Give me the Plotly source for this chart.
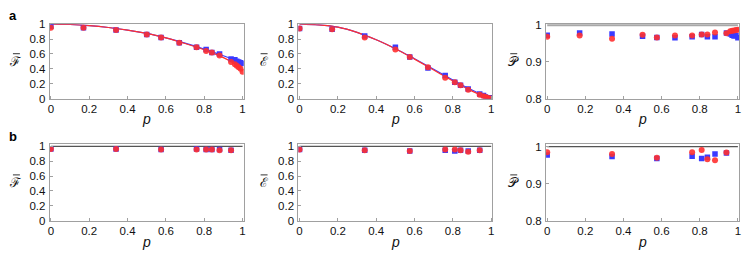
import plotly.graph_objects as go

# ---------------- data ----------------
p_a = [0, 0.17, 0.34, 0.5, 0.575, 0.67, 0.76, 0.81, 0.84, 0.88, 0.94, 0.96, 0.97, 0.98, 0.99, 1.0]
F_a_blue = [0.97, 0.95, 0.92, 0.86, 0.82, 0.75, 0.69, 0.66, 0.62, 0.60, 0.53, 0.52, 0.50, 0.49, 0.48, 0.47]
F_a_red = [0.95, 0.95, 0.92, 0.86, 0.82, 0.75, 0.69, 0.64, 0.62, 0.58, 0.49, 0.46, 0.44, 0.42, 0.40, 0.36]
E_a_blue = [0.94, 0.93, 0.84, 0.69, 0.56, 0.41, 0.31, 0.22, 0.18, 0.13, 0.06, 0.04, 0.02, 0.01, 0.01, 0.0]
E_a_red = [0.94, 0.93, 0.82, 0.66, 0.56, 0.42, 0.28, 0.22, 0.18, 0.12, 0.05, 0.03, 0.02, 0.01, 0.0, 0.0]
P_a_blue = [0.972, 0.978, 0.975, 0.969, 0.966, 0.965, 0.968, 0.974, 0.968, 0.968, 0.978, 0.975, 0.972, 0.970, 0.971, 0.965]
P_a_red = [0.968, 0.971, 0.962, 0.973, 0.966, 0.971, 0.971, 0.974, 0.974, 0.979, 0.977, 0.983, 0.984, 0.985, 0.986, 0.987]

p_curve = [0, 0.1, 0.2, 0.3, 0.4, 0.5, 0.6, 0.7, 0.8, 0.85, 0.9, 0.95, 1.0]
F_curve_blue = [1.0, 0.995, 0.98, 0.955, 0.92, 0.875, 0.815, 0.745, 0.665, 0.62, 0.575, 0.53, 0.48]
F_curve_red = [1.0, 0.995, 0.98, 0.955, 0.92, 0.875, 0.815, 0.74, 0.655, 0.605, 0.55, 0.48, 0.37]
E_curve_blue = [1.0, 0.99, 0.96, 0.89, 0.79, 0.67, 0.535, 0.395, 0.25, 0.18, 0.115, 0.055, 0.0]
E_curve_red = [1.0, 0.99, 0.96, 0.89, 0.79, 0.67, 0.53, 0.385, 0.235, 0.165, 0.10, 0.045, 0.0]

p_b = [0, 0.34, 0.575, 0.76, 0.81, 0.84, 0.88, 0.94]
F_b_blue = [0.965, 0.965, 0.96, 0.965, 0.96, 0.96, 0.96, 0.95]
F_b_red = [0.965, 0.965, 0.96, 0.96, 0.96, 0.96, 0.95, 0.95]
E_b_blue = [0.96, 0.95, 0.94, 0.95, 0.94, 0.95, 0.94, 0.95]
E_b_red = [0.96, 0.95, 0.94, 0.96, 0.96, 0.95, 0.93, 0.95]
P_b_blue = [0.977, 0.973, 0.968, 0.974, 0.968, 0.971, 0.980, 0.983]
P_b_red = [0.985, 0.980, 0.970, 0.985, 0.991, 0.966, 0.963, 0.984]

x_ticks = [0, 0.2, 0.4, 0.6, 0.8, 1.0]
x_ticktext = ["0", "0.2", "0.4", "0.6", "0.8", "1"]
y_ticks = [0, 0.2, 0.4, 0.6, 0.8, 1.0]
y_ticktext = ["0", "0.2", "0.4", "0.6", "0.8", "1"]
yP_ticks = [0.8, 0.9, 1.0]
yP_ticktext = ["0.8", "0.9", "1"]
y_titles = ["ℱ", "ℰ", "𝒫"]

BLUE = "#3a3aff"
RED = "#ff3030"
FRAME = "#a0a0a0"
FONT = "Liberation Sans"

fig = go.Figure()

W, H = 747, 262
cols = [(48, 243), (298, 493), (547, 741)]
rows = [(19, 97), (145, 225)]


def dom_x(c):
    return [cols[c][0] / W, cols[c][1] / W]


def dom_y(r):
    return [1 - rows[r][1] / H, 1 - rows[r][0] / H]


def add_pts(i, x, yb, yr):
    xa = "x" if i == 1 else f"x{i}"
    ya = "y" if i == 1 else f"y{i}"
    fig.add_trace(go.Scatter(x=x, y=yb, mode="markers", xaxis=xa, yaxis=ya,
                             marker=dict(symbol="square", size=5.5, color=BLUE), showlegend=False))
    fig.add_trace(go.Scatter(x=x, y=yr, mode="markers", xaxis=xa, yaxis=ya,
                             marker=dict(symbol="circle", size=6, color=RED, opacity=0.9), showlegend=False))


def add_curve(i, x, y, color):
    xa = "x" if i == 1 else f"x{i}"
    ya = "y" if i == 1 else f"y{i}"
    fig.add_trace(go.Scatter(x=x, y=y, mode="lines", xaxis=xa, yaxis=ya, line_shape="spline",
                             line=dict(color=color, width=1.2), showlegend=False))


def add_hline(i, yv, color, width):
    xa = "x" if i == 1 else f"x{i}"
    ya = "y" if i == 1 else f"y{i}"
    fig.add_trace(go.Scatter(x=[0, 1.0], y=[yv, yv], mode="lines", xaxis=xa, yaxis=ya,
                             line=dict(color=color, width=width), showlegend=False, hoverinfo="skip"))


# row a
add_curve(1, p_curve, F_curve_blue, BLUE)
add_curve(1, p_curve, F_curve_red, RED)
add_pts(1, p_a, F_a_blue, F_a_red)
add_curve(2, p_curve, E_curve_blue, BLUE)
add_curve(2, p_curve, E_curve_red, RED)
add_pts(2, p_a, E_a_blue, E_a_red)
add_hline(3, 1.0, "#a8a8a8", 3)
add_pts(3, p_a, P_a_blue, P_a_red)
# row b
add_hline(4, 1.0, "#555555", 1.3)
add_pts(4, p_b, F_b_blue, F_b_red)
add_hline(5, 1.0, "#555555", 1.3)
add_pts(5, p_b, E_b_blue, E_b_red)
add_hline(6, 1.0, "#555555", 1.3)
add_pts(6, p_b, P_b_blue, P_b_red)

axis_common = dict(showline=True, mirror=True, linecolor=FRAME, linewidth=1, ticks="inside",
                   ticklen=3, tickcolor=FRAME, showgrid=False, zeroline=False,
                   tickfont=dict(family=FONT, size=11.5, color="#111"))

yranges = {1: [0, 1.0], 2: [0, 1.0], 3: [0.8, 1.002], 4: [0, 1.028], 5: [0, 1.028], 6: [0.8, 1.006]}
layout = {}
for i in range(1, 7):
    r = 0 if i <= 3 else 1
    c = (i - 1) % 3
    xk = "xaxis" if i == 1 else f"xaxis{i}"
    yk = "yaxis" if i == 1 else f"yaxis{i}"
    ya = "y" if i == 1 else f"y{i}"
    xa = "x" if i == 1 else f"x{i}"
    layout[xk] = dict(axis_common, domain=dom_x(c), range=[-0.006, 1.006], tickvals=x_ticks,
                      ticktext=x_ticktext, anchor=ya)
    if c == 2:
        tv, tt = yP_ticks, yP_ticktext
    else:
        tv, tt = y_ticks, y_ticktext
    layout[yk] = dict(axis_common, domain=dom_y(r), range=yranges[i], tickvals=tv, ticktext=tt,
                      anchor=xa, ticklabelstandoff=1)

fig.update_layout(**layout)

ann = []
shapes = []
# x titles
for r, ypix in [(0, 118), (1, 247)]:
    for c in range(3):
        xc = (cols[c][0] + cols[c][1]) / 2
        ann.append(dict(x=xc / W, y=1 - ypix / H, xref="paper", yref="paper", text="<i>p</i>",
                        xanchor="center", yanchor="middle",
                        showarrow=False, font=dict(family=FONT, size=14, color="#111")))
# y titles with overbar
yx = [14, 263, 514]
for r in range(2):
    yc = (rows[r][0] + rows[r][1]) / 2
    for c in range(3):
        ann.append(dict(x=yx[c] / W, y=1 - yc / H, xref="paper", yref="paper", text=y_titles[c],
                        xanchor="center", yanchor="middle",
                        showarrow=False, font=dict(family="DejaVu Serif", size=13, color="#111")))
        shapes.append(dict(type="line", xref="paper", yref="paper",
                           x0=(yx[c] - 3) / W, x1=(yx[c] + 4) / W,
                           y0=1 - (yc - 8) / H, y1=1 - (yc - 8) / H,
                           line=dict(color="#333", width=1)))
# panel letters
ann.append(dict(x=5 / W, y=1 - 10 / H, xref="paper", yref="paper", text="<b>a</b>", showarrow=False,
                xanchor="left", yanchor="middle", font=dict(family=FONT, size=13, color="#000")))
ann.append(dict(x=5 / W, y=1 - 137 / H, xref="paper", yref="paper", text="<b>b</b>", showarrow=False,
                xanchor="left", yanchor="middle", font=dict(family=FONT, size=13, color="#000")))

fig.update_layout(annotations=ann, shapes=shapes, width=W, height=H, margin=dict(l=0, r=0, t=0, b=0),
                  paper_bgcolor="white", plot_bgcolor="white", showlegend=False)

fig.write_html("out.html", config={"displayModeBar": False},
               post_script="document.body.style.margin='0';document.body.style.padding='0';document.body.style.overflow='hidden';")
